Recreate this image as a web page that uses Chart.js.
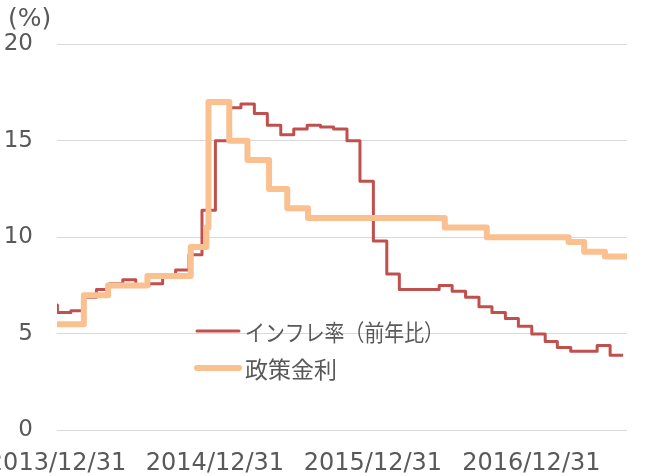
<!DOCTYPE html>
<html><head><meta charset="utf-8">
<script src="https://cdn.jsdelivr.net/npm/chart.js@4.4.0/dist/chart.umd.min.js"></script>
<style>html,body{margin:0;padding:0;background:#fff;overflow:hidden}#wrap{width:651px;height:476px}</style>
</head><body><div id="wrap"><canvas id="c" width="651" height="476"></canvas></div>
<script>
const seriesNames = ['インフレ率（前年比）', '政策金利'];
const unitLabel = '(%)';

// Inflation (YoY): each value holds from its date until the next date
const inflationDates = [
  '2013-12-31',
  '2014-01-01','2014-02-01','2014-03-01','2014-04-01','2014-05-01','2014-06-01',
  '2014-07-01','2014-08-01','2014-09-01','2014-10-01','2014-11-01','2014-12-01',
  '2015-01-01','2015-02-01','2015-03-01','2015-04-01','2015-05-01','2015-06-01',
  '2015-07-01','2015-08-01','2015-09-01','2015-10-01','2015-11-01','2015-12-01',
  '2016-01-01','2016-02-01','2016-03-01','2016-04-01','2016-05-01','2016-06-01',
  '2016-07-01','2016-08-01','2016-09-01','2016-10-01','2016-11-01','2016-12-01',
  '2017-01-01','2017-02-01','2017-03-01','2017-04-01','2017-05-01','2017-06-01',
  '2017-07-01','2017-07-31'
];
const inflationValues = [
  6.5,
  6.1, 6.2, 6.9, 7.3, 7.6, 7.8, 7.5, 7.6, 8.0, 8.3, 9.1, 11.4,
  15.0, 16.7, 16.9, 16.4, 15.8, 15.3, 15.6, 15.8, 15.7, 15.6, 15.0, 12.9,
  9.8, 8.1, 7.3, 7.3, 7.3, 7.5, 7.2, 6.9, 6.4, 6.1, 5.8, 5.4,
  5.0, 4.6, 4.3, 4.1, 4.1, 4.4, 3.9, 3.9
];

// Policy rate: each value holds from its date until the next date
const rateDates = [
  '2013-12-31','2014-03-03','2014-04-28','2014-07-28','2014-11-05','2014-12-11',
  '2014-12-16','2015-02-02','2015-03-16','2015-05-05','2015-06-16','2015-08-03',
  '2016-06-14','2016-09-19','2017-03-27','2017-05-02','2017-06-19','2017-08-09'
];
const rateValues = [
  5.5, 7.0, 7.5, 8.0, 9.5, 10.5,
  17.0, 15.0, 14.0, 12.5, 11.5, 11.0,
  10.5, 10.0, 9.75, 9.25, 9.0, 9.0
];

const xRange = ['2013-12-31', '2017-08-09'];
const xTickDates = ['2013-12-31', '2014-12-31', '2015-12-31', '2016-12-31'];
const xTickLabels = ['2013/12/31', '2014/12/31', '2015/12/31', '2016/12/31'];
const yTickValues = [0, 5, 10, 15, 20];

function day(s) {
  const p = s.split('-').map(Number);
  return Date.UTC(p[0], p[1] - 1, p[2]) / 86400000;
}
const toPoints = (dates, vals) => dates.map((d, i) => ({x: day(d), y: vals[i]}));

const textColor = '#595959';

const overlay = {
  id: 'overlay',
  afterDraw(chart) {
    const ctx = chart.ctx, a = chart.chartArea;
    ctx.save();
    ctx.fillStyle = textColor;
    ctx.textBaseline = 'middle';
    ctx.textAlign = 'left';
    ctx.font = '25px "DejaVu Sans"';
    ctx.fillText(unitLabel, 8, 19);
    // legend inside plot area
    const rows = [a.top + 287, a.top + 324];
    chart.data.datasets.forEach((ds, i) => {
      const y = rows[i];
      ctx.strokeStyle = ds.borderColor;
      ctx.lineWidth = ds.borderWidth;
      ctx.lineCap = 'round';
      ctx.beginPath();
      ctx.moveTo(a.left + 140, y);
      ctx.lineTo(a.left + 182, y);
      ctx.stroke();
      ctx.fillStyle = textColor;
      ctx.font = '23px "Noto Sans CJK JP"';
      ctx.fillText(ds.label, a.left + 188, y + 1, i === 0 ? 199 : 400);
    });
    ctx.restore();
  }
};

new Chart(document.getElementById('c'), {
  type: 'line',
  data: {
    datasets: [
      {
        label: seriesNames[0],
        data: toPoints(inflationDates, inflationValues),
        borderColor: '#C0504D',
        borderWidth: 3,
        stepped: true,
        pointRadius: 0,
        fill: false,
        order: 1,
        borderJoinStyle: 'round'
      },
      {
        label: seriesNames[1],
        data: toPoints(rateDates, rateValues),
        borderColor: '#FAC090',
        borderWidth: 6,
        stepped: true,
        pointRadius: 0,
        fill: false,
        order: 0,
        borderJoinStyle: 'round',
        borderCapStyle: 'round'
      }
    ]
  },
  options: {
    responsive: false,
    animation: false,
    events: [],
    layout: {padding: {top: 44, right: 24, left: 0, bottom: 0}},
    plugins: {legend: {display: false}, title: {display: false}, tooltip: {enabled: false}},
    scales: {
      x: {
        type: 'linear',
        min: day(xRange[0]),
        max: day(xRange[1]),
        offset: false,
        grid: {display: false, drawTicks: false},
        border: {display: false},
        afterBuildTicks(scale) { scale.ticks = xTickDates.map(d => ({value: day(d)})); },
        afterFit(scale) { scale.paddingLeft = 0; scale.paddingRight = 0; scale.height = 45.5; },
        ticks: {
          autoSkip: false,
          maxRotation: 0,
          minRotation: 0,
          padding: 19,
          color: textColor,
          font: {family: 'DejaVu Sans', size: 24},
          callback: (v, i) => xTickLabels[i]
        }
      },
      y: {
        min: 0,
        max: 20,
        afterBuildTicks(scale) { scale.ticks = yTickValues.map(v => ({value: v})); },
        afterFit(scale) { scale.width = 57; },
        grid: {color: '#D9D9D9', lineWidth: 1, drawTicks: false},
        border: {display: false},
        ticks: {
          padding: 24,
          color: textColor,
          font: {family: 'DejaVu Sans', size: 23}
        }
      }
    }
  },
  plugins: [overlay]
});
</script>
</body></html>
